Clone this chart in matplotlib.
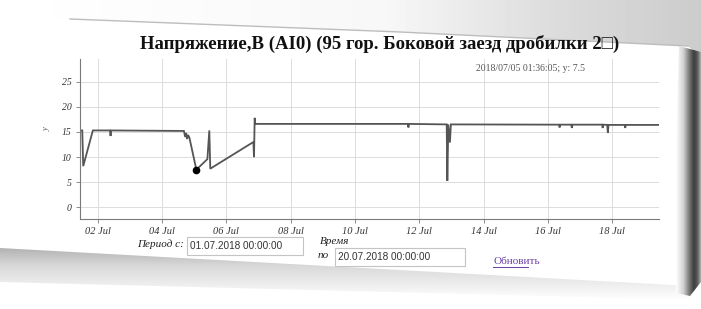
import matplotlib
matplotlib.use("Agg")
import numpy as np
import pandas as pd
import matplotlib.pyplot as plt
import matplotlib.dates as mdates
from matplotlib.patches import Polygon, Rectangle

# ---------------- data ----------------
title = "Напряжение,В (AI0) (95 гор. Боковой заезд дробилки 2\u25a1)"
days = [1.45, 1.52, 1.55, 1.85, 2.38, 2.40, 2.42, 4.68, 4.72, 4.75, 4.78, 4.81,
        4.85, 5.0678, 5.41, 5.47, 5.50, 6.84, 6.86, 6.88, 6.90, 11.64, 11.66,
        11.68, 12.85, 12.87, 12.90, 12.95, 12.98, 16.34, 16.36, 16.38, 16.72,
        16.74, 16.76, 17.68, 17.70, 17.72, 17.84, 17.86, 17.88, 18.38, 18.40,
        18.42, 19.45]
volts = [15.3, 15.3, 8.2, 15.3, 15.3, 14.2, 15.3, 15.2, 14.0, 14.8, 13.6, 14.4,
         13.9, 7.5, 9.6, 15.3, 7.7, 13.0, 10.0, 17.8, 16.6, 16.6, 15.9,
         16.6, 16.5, 5.3, 16.5, 12.9, 16.5, 16.45, 15.9, 16.45, 16.45,
         15.8, 16.45, 16.45, 15.8, 16.45, 16.4, 14.8, 16.4, 16.4, 15.8,
         16.4, 16.4]
hover_time = "2018/07/05 01:36:05"
hover_day = 5.0678
hover_value = 7.5
y_ticks = [0, 5, 10, 15, 20, 25]
tick_days = [2, 4, 6, 8, 10, 12, 14, 16, 18]
period_from = "01.07.2018 00:00:00"
period_to = "20.07.2018 00:00:00"

base = pd.Timestamp("2018-07-01")
def to_time(d):
    return base + pd.to_timedelta(np.asarray(d, dtype=float) - 1.0, unit="D")

times = to_time(days)
hover_t = to_time([hover_day])

W, H = 701, 309
fig = plt.figure(figsize=(W / 100, H / 100), dpi=100)
fig.patch.set_facecolor("white")

# ------------- background decoration (pixel coords) -------------
bg = fig.add_axes([0, 0, 1, 1])
bg.set_xlim(0, W)
bg.set_ylim(H, 0)
bg.axis("off")
bg.set_zorder(0)


def gradient_fill(poly_pts, stops, horizontal=True, x0=0, x1=W, y0=0, y1=H):
    """Fill a polygon with a linear grey gradient (decoration only)."""
    n = 200
    pos = np.linspace(0, 1, n)
    sp = np.array([s[0] for s in stops])
    sv = np.array([s[1] for s in stops])
    vals = np.interp(pos, sp, sv)
    img = vals[None, :] if horizontal else vals[:, None]
    im = bg.imshow(img, cmap="gray", vmin=0, vmax=1, extent=(x0, x1, y1, y0),
                   aspect="auto", interpolation="bilinear", zorder=1)
    poly = Polygon(poly_pts, closed=True, facecolor="none", edgecolor="none",
                   transform=bg.transData)
    bg.add_patch(poly)
    im.set_clip_path(poly)


# shading above the card
gradient_fill([(0, 0), (W, 0), (W, 58), (688, 46), (400, 32), (70, 19), (0, 15)],
              [(0, 1.0), (0.55, 0.97), (0.8, 0.86), (1.0, 0.80)], True, 0, W, 0, 60)
# card top border
bg.plot([70, 400, 688], [19, 32, 46], color="#bdbdbd", lw=1.0, zorder=2)
# bottom shadow band under the card
gradient_fill([(0, 248), (690, 286), (700, 300), (0, 282)],
              [(0, 0.70), (0.35, 0.85), (1.0, 1.0)], False, 0, 690, 248, 300)
# right edge shadow
gradient_fill([(679, 46), (701, 52), (701, 282), (690, 296), (672, 292)],
              [(0, 1.0), (0.3, 0.82), (0.55, 0.45), (0.72, 0.24), (0.86, 0.35), (1.0, 0.7)],
              True, 676, 701, 46, 296)

# ---------------- chart ----------------
ax = fig.add_axes([80 / W, (H - 219) / H, 579 / W, 160 / H])
ax.set_zorder(2)
ax.patch.set_alpha(0)
ax.plot(times, volts, color="#555555", lw=1.3, solid_joinstyle="miter")
ax.plot(hover_t, [hover_value], "o", color="black", ms=4.5)

ax.set_xlim(to_time([days[0]])[0], to_time([days[-1]])[0])
ax.set_ylim(-2.3, 29.5)
ax.set_yticks(y_ticks)
ax.set_xticks(to_time(tick_days))
ax.xaxis.set_major_formatter(mdates.DateFormatter("%d %b"))
ax.grid(True, color="#dcdcdc", lw=0.7)
ax.set_axisbelow(True)
for s in ["top", "right"]:
    ax.spines[s].set_visible(False)
for s in ["left", "bottom"]:
    ax.spines[s].set_color("#7a7a7a")
    ax.spines[s].set_linewidth(0.8)
ax.tick_params(length=3, width=0.6, color="#7a7a7a", labelsize=7.5, labelcolor="#333333", pad=3)
for lab in ax.get_xticklabels() + ax.get_yticklabels():
    lab.set_fontfamily(["Liberation Serif", "DejaVu Serif"])
    lab.set_fontstyle("italic")
for lab in ax.get_yticklabels():
    lab.set_fontsize(7)

ax.set_xlabel("Время", fontsize=8, fontstyle="italic", family=["Liberation Serif", "DejaVu Serif"], color="#222222")
ax.xaxis.set_label_coords(0.44, -0.115)
ax.set_ylabel("y", fontsize=6, fontstyle="italic", family=["Liberation Serif", "DejaVu Serif"], color="#555555")
ax.yaxis.set_label_coords(-0.05, 0.56)

# title and hover legend
fig.text(380 / W, 1 - 44 / H, title, ha="center", va="center", fontsize=13.5,
         fontweight="bold", family=["Liberation Serif", "DejaVu Serif"], color="#111111")
fig.text(531 / W, 1 - 68 / H, f"{hover_time}; y: {hover_value:g}", ha="center", va="center",
         fontsize=7, family=["Liberation Serif", "DejaVu Serif"], color="#555555")

# ---------------- form below ----------------
fg = fig.add_axes([0, 0, 1, 1])
fg.set_xlim(0, W)
fg.set_ylim(H, 0)
fg.axis("off")
fg.set_zorder(3)
serif = ["Liberation Serif", "DejaVu Serif"]
fg.text(137, 244, "Период с:", fontsize=8, fontstyle="italic", family=serif, va="center", color="#222222")
fg.add_patch(Rectangle((187, 237), 116, 18, facecolor="white", edgecolor="#c4c4c4", lw=0.8))
fg.text(190, 246, period_from, fontsize=7.2, family=["Liberation Sans", "DejaVu Sans"], va="center", color="#333333")
fg.text(318, 256, "по", fontsize=8, fontstyle="italic", family=serif, va="center", color="#222222")
fg.add_patch(Rectangle((335, 248), 130, 18, facecolor="white", edgecolor="#c4c4c4", lw=0.8))
fg.text(338, 257, period_to, fontsize=7.2, family=["Liberation Sans", "DejaVu Sans"], va="center", color="#333333")
fg.text(493, 262, "Обновить", fontsize=8, family=serif, va="center", color="#6b3fa6")
fg.plot([493, 528], [267, 267], color="#6b3fa6", lw=0.7)

fig.savefig("out.png", dpi=100, facecolor="white")
